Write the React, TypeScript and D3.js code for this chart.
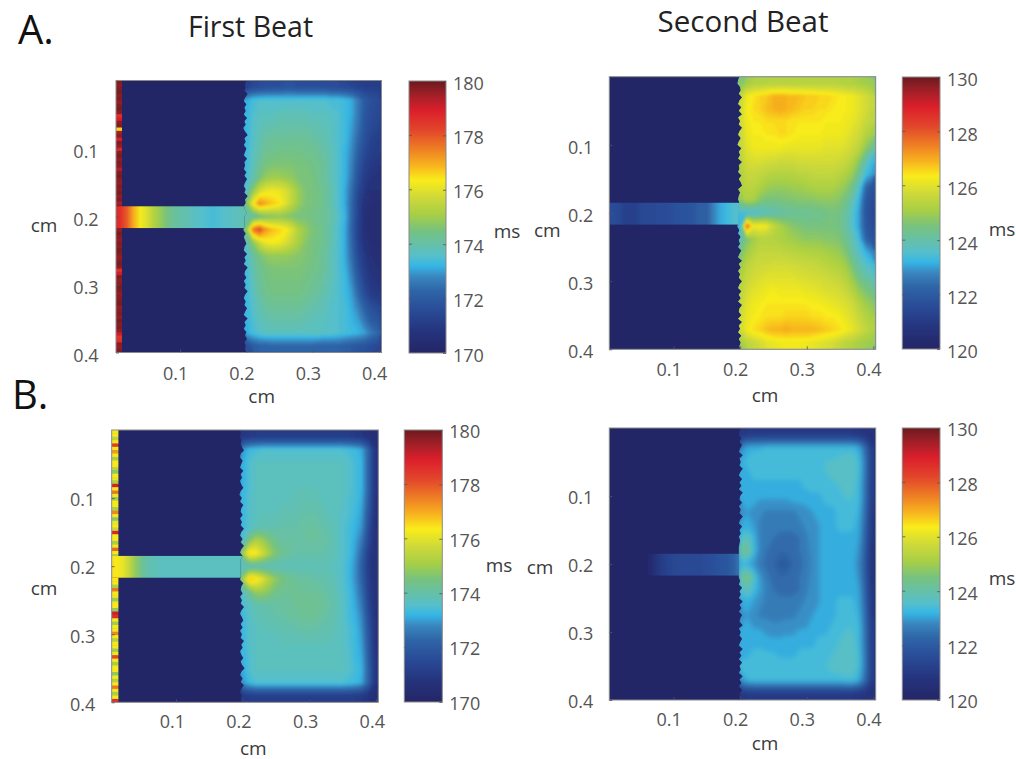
import * as d3 from "d3";
import { useEffect, useRef } from "react";

const WIDTH = 1016;
const HEIGHT = 759;
const FONT = "'Open Sans', sans-serif";

// colorbar: position 0..1 from bottom to top
const colorPos = [0, 0.085, 0.16, 0.23, 0.28, 0.32, 0.355, 0.39, 0.45, 0.51, 0.57, 0.636, 0.685, 0.75, 0.82, 0.89, 0.95, 1];
const colorHex = ["#242566", "#25357f", "#2a4c98", "#2e66a8", "#3a86bf", "#35b6e5", "#55bfcc", "#62c0b0", "#76c27f", "#a8cf45", "#cdd93a", "#f9ec1a", "#f8b81e", "#ee7e24", "#e2452b", "#dc1f2b", "#a01f28", "#6b1a1e"];

const xTicks = [0.1, 0.2, 0.3, 0.4];
const yTicks = [0.1, 0.2, 0.3, 0.4];
const barTicks = [0, 2, 4, 6, 8, 10];

// all fields: ms above the colorbar minimum, rows top to bottom, columns from the notch edge to the right side
const fieldA1 = [
  [1.3,1.5,1.6,1.7,1.7,1.7,1.8,1.8,1.7,1.7,1.7,1.7,1.7,1.6,1.6,1.5,1.4,1.3,1.2,1.2,1.2],
  [3.1,3.4,3.5,3.5,3.5,3.5,3.5,3.5,3.5,3.5,3.5,3.5,3.5,3.4,3.4,3.3,3.1,2.6,2.0,1.7,1.6],
  [3.2,3.5,3.7,3.7,3.7,3.8,3.8,3.8,3.8,3.8,3.7,3.7,3.7,3.6,3.5,3.3,3.1,2.6,1.9,1.6,1.5],
  [3.2,3.6,3.8,3.9,3.9,4.0,4.0,4.0,4.0,4.0,3.9,3.9,3.8,3.7,3.5,3.3,3.0,2.5,1.8,1.5,1.4],
  [3.2,3.6,3.9,4.1,4.2,4.2,4.2,4.2,4.2,4.2,4.1,4.0,3.9,3.7,3.5,3.3,2.9,2.3,1.7,1.3,1.2],
  [3.3,3.7,4.0,4.3,4.3,4.4,4.4,4.4,4.4,4.3,4.3,4.2,4.0,3.8,3.5,3.2,2.8,2.1,1.5,1.2,1.1],
  [3.3,3.8,4.2,4.5,4.6,4.6,4.6,4.6,4.5,4.5,4.4,4.3,4.1,3.8,3.5,3.2,2.7,1.9,1.3,1.0,0.9],
  [3.4,3.9,4.5,4.9,5.0,5.0,4.9,4.8,4.6,4.5,4.5,4.3,4.1,3.8,3.5,3.2,2.6,1.7,1.1,0.8,0.7],
  [3.7,4.8,5.7,6.1,6.2,6.1,5.9,5.4,4.9,4.6,4.5,4.4,4.2,3.9,3.5,3.1,2.4,1.5,0.9,0.6,0.6],
  [4.6,6.3,7.4,7.0,6.7,6.5,6.0,5.4,4.9,4.6,4.5,4.4,4.2,3.9,3.5,3.1,2.3,1.3,0.7,0.5,0.5],
  [3.9,4.0,4.3,4.6,4.7,4.8,4.7,4.6,4.5,4.5,4.4,4.3,4.2,4.0,3.6,3.2,2.3,1.3,0.6,0.4,0.4],
  [4.8,7.6,8.2,7.2,6.8,6.6,6.4,5.9,5.2,4.9,4.6,4.4,4.2,3.9,3.5,3.1,2.2,1.2,0.6,0.4,0.4],
  [3.9,4.8,5.7,6.2,6.3,6.2,5.9,5.5,5.1,4.7,4.5,4.4,4.2,3.9,3.5,3.1,2.3,1.3,0.7,0.5,0.5],
  [3.5,4.1,4.5,4.8,4.9,4.9,4.9,4.8,4.7,4.6,4.5,4.3,4.1,3.8,3.5,3.1,2.4,1.5,0.9,0.6,0.5],
  [3.4,3.9,4.3,4.5,4.6,4.6,4.6,4.6,4.6,4.5,4.4,4.3,4.1,3.8,3.5,3.2,2.6,1.7,1.1,0.7,0.6],
  [3.3,3.8,4.2,4.4,4.5,4.5,4.5,4.5,4.5,4.4,4.3,4.2,4.0,3.8,3.5,3.3,2.8,2.0,1.3,0.9,0.8],
  [3.3,3.7,4.1,4.3,4.4,4.4,4.4,4.4,4.4,4.3,4.2,4.1,3.9,3.7,3.5,3.3,3.0,2.3,1.6,1.1,1.0],
  [3.2,3.6,3.9,4.1,4.2,4.2,4.2,4.2,4.2,4.1,4.0,3.9,3.8,3.6,3.5,3.4,3.1,2.7,2.1,1.7,1.5],
  [3.2,3.5,3.8,3.9,4.0,4.0,4.0,4.0,4.0,3.9,3.8,3.7,3.7,3.6,3.5,3.4,3.2,3.0,2.5,2.0,1.8],
  [3.1,3.4,3.6,3.7,3.7,3.7,3.7,3.7,3.7,3.7,3.7,3.7,3.6,3.6,3.5,3.4,3.3,3.2,3.0,2.6,2.3],
  [1.6,2.0,2.2,2.2,2.3,2.3,2.3,2.3,2.3,2.3,2.3,2.2,2.2,2.2,2.2,2.1,2.0,1.9,1.8,1.6,1.5],
];

const fieldA2 = [
  [4.6,5.0,5.2,5.2,5.3,5.3,5.3,5.3,5.3,5.3,5.3,5.3,5.3,5.3,5.3,5.3,5.2,5.2,5.1,5.0,4.9],
  [5.5,6.2,6.4,6.6,6.7,6.9,6.9,6.9,6.8,6.8,6.7,6.7,6.6,6.6,6.5,6.4,6.3,6.2,6.0,5.8,5.5],
  [5.7,6.3,6.5,6.6,6.8,6.9,7.0,6.9,6.8,6.7,6.6,6.6,6.5,6.5,6.4,6.3,6.3,6.2,6.0,5.8,5.5],
  [5.7,6.2,6.4,6.4,6.5,6.5,6.5,6.5,6.4,6.4,6.4,6.4,6.4,6.3,6.3,6.3,6.2,6.1,5.9,5.6,5.4],
  [5.6,6.1,6.3,6.3,6.4,6.4,6.5,6.5,6.4,6.3,6.3,6.3,6.3,6.2,6.2,6.2,6.1,5.9,5.7,5.3,5.0],
  [5.5,6.0,6.2,6.2,6.2,6.2,6.2,6.1,6.1,6.1,6.1,6.1,6.1,6.0,6.0,6.0,5.9,5.7,5.4,4.8,4.3],
  [5.3,5.8,5.9,5.9,5.8,5.8,5.7,5.7,5.7,5.8,5.8,5.8,5.8,5.8,5.8,5.7,5.6,5.3,4.8,3.9,3.3],
  [5.2,5.6,5.6,5.5,5.4,5.3,5.3,5.3,5.3,5.4,5.4,5.5,5.5,5.5,5.5,5.4,5.2,4.9,4.2,3.4,3.0],
  [5.2,5.4,5.4,5.2,5.0,4.9,4.9,4.9,5.0,5.0,5.1,5.2,5.2,5.2,5.2,5.0,4.8,4.4,3.6,2.4,1.8],
  [4.8,5.2,5.1,4.7,4.5,4.5,4.5,4.6,4.6,4.7,4.7,4.7,4.8,4.8,4.8,4.7,4.4,3.9,3.2,2.0,1.6],
  [3.4,3.4,3.5,3.6,3.8,3.9,4.0,4.1,4.2,4.2,4.2,4.3,4.3,4.4,4.5,4.4,4.1,3.6,3.0,1.9,1.5],
  [3.2,7.8,6.2,6.3,6.2,5.6,5.2,4.9,4.7,4.6,4.5,4.5,4.5,4.5,4.5,4.4,4.1,3.6,3.0,2.0,1.6],
  [3.8,4.6,5.0,5.3,5.3,5.3,5.2,5.1,5.0,4.9,4.8,4.8,4.8,4.7,4.7,4.6,4.3,3.9,3.3,2.3,1.8],
  [4.5,5.0,5.3,5.5,5.5,5.5,5.5,5.4,5.4,5.3,5.3,5.2,5.2,5.1,5.0,4.9,4.6,4.1,3.6,3.2,2.8],
  [4.9,5.4,5.6,5.7,5.7,5.8,5.8,5.8,5.7,5.7,5.6,5.6,5.5,5.4,5.3,5.2,5.0,4.5,4.0,3.6,3.4],
  [5.2,5.6,5.8,5.9,6.0,6.0,6.0,6.0,6.0,5.9,5.9,5.8,5.8,5.7,5.6,5.5,5.3,4.9,4.4,4.1,3.9],
  [5.4,5.8,6.0,6.1,6.2,6.3,6.2,6.2,6.2,6.2,6.1,6.1,6.0,5.9,5.9,5.8,5.6,5.3,4.9,4.6,4.4],
  [5.5,6.0,6.2,6.3,6.4,6.4,6.4,6.4,6.4,6.4,6.4,6.3,6.3,6.2,6.1,6.0,5.9,5.7,5.3,5.0,4.8],
  [5.7,6.1,6.3,6.4,6.5,6.5,6.5,6.6,6.6,6.6,6.6,6.5,6.5,6.4,6.4,6.3,6.1,5.9,5.6,5.3,5.1],
  [5.7,6.2,6.5,6.6,6.8,6.9,6.9,7.0,6.9,6.9,6.9,6.9,6.8,6.7,6.6,6.5,6.3,6.1,5.8,5.5,5.3],
  [5.0,5.4,5.6,5.8,6.0,6.1,6.2,6.2,6.2,6.2,6.2,6.1,6.0,5.9,5.8,5.6,5.4,5.3,5.1,5.0,4.9],
];

const fieldB1 = [
  [0.9,1.0,1.1,1.1,1.1,1.1,1.1,1.1,1.1,1.1,1.1,1.1,1.1,1.1,1.1,1.1,1.1,1.0,0.9,0.7,0.5],
  [2.9,3.3,3.4,3.5,3.5,3.5,3.5,3.5,3.5,3.5,3.5,3.5,3.5,3.5,3.5,3.5,3.4,3.3,3.1,2.2,0.9],
  [3.1,3.5,3.7,3.7,3.7,3.7,3.7,3.7,3.7,3.7,3.7,3.7,3.7,3.7,3.7,3.7,3.6,3.4,3.2,2.2,0.9],
  [3.1,3.5,3.7,3.7,3.8,3.8,3.8,3.8,3.8,3.8,3.8,3.8,3.8,3.8,3.7,3.7,3.6,3.4,3.2,2.2,0.9],
  [3.2,3.5,3.7,3.7,3.8,3.8,3.8,3.8,3.8,3.8,3.8,3.8,3.8,3.8,3.7,3.7,3.6,3.4,3.2,2.2,0.9],
  [3.2,3.6,3.7,3.7,3.8,3.8,3.8,3.8,3.9,3.9,3.9,3.9,3.8,3.8,3.7,3.7,3.5,3.4,3.1,2.1,0.8],
  [3.2,3.6,3.7,3.8,3.8,3.8,3.9,3.9,3.9,4.0,4.0,4.0,3.9,3.8,3.8,3.6,3.5,3.3,3.0,1.9,0.8],
  [3.3,3.6,3.8,3.9,3.9,3.9,4.0,4.0,4.0,4.0,4.1,4.1,4.0,3.9,3.8,3.6,3.4,3.2,2.9,1.7,0.7],
  [3.6,4.5,5.2,5.0,4.6,4.3,4.1,4.1,4.1,4.1,4.1,4.1,4.1,4.0,3.8,3.6,3.4,3.1,2.6,1.5,0.7],
  [4.9,6.6,6.4,5.8,5.1,4.6,4.3,4.1,4.0,4.0,4.0,4.0,4.0,3.9,3.8,3.6,3.4,3.0,2.3,1.2,0.6],
  [3.7,3.7,3.8,3.8,3.8,3.8,3.8,3.8,3.8,3.8,3.8,3.8,3.8,3.8,3.7,3.6,3.3,2.9,2.1,1.1,0.6],
  [5.0,6.8,6.6,6.0,5.3,4.8,4.5,4.3,4.2,4.1,4.1,4.0,4.0,3.9,3.8,3.6,3.3,2.9,2.2,1.2,0.6],
  [3.7,4.3,4.9,4.9,4.7,4.4,4.3,4.2,4.2,4.2,4.2,4.2,4.1,4.0,3.9,3.6,3.4,3.0,2.4,1.3,0.7],
  [3.4,3.7,3.9,4.0,4.0,4.0,4.1,4.1,4.2,4.2,4.2,4.2,4.2,4.1,3.9,3.7,3.4,3.1,2.6,1.5,0.7],
  [3.3,3.6,3.8,3.9,3.9,4.0,4.0,4.1,4.1,4.2,4.2,4.2,4.1,4.0,3.9,3.7,3.4,3.2,2.8,1.7,0.8],
  [3.2,3.6,3.7,3.8,3.8,3.8,3.9,3.9,3.9,4.0,4.0,4.0,3.9,3.9,3.8,3.7,3.5,3.3,2.9,1.9,0.8],
  [3.2,3.6,3.7,3.7,3.7,3.8,3.8,3.8,3.8,3.8,3.8,3.8,3.8,3.8,3.8,3.7,3.5,3.3,3.0,2.0,0.8],
  [3.2,3.5,3.7,3.7,3.7,3.7,3.8,3.8,3.8,3.8,3.8,3.8,3.8,3.8,3.7,3.7,3.6,3.3,3.1,2.1,0.9],
  [3.1,3.5,3.7,3.7,3.7,3.7,3.7,3.7,3.7,3.7,3.7,3.7,3.7,3.7,3.7,3.7,3.6,3.4,3.2,2.2,0.9],
  [2.9,3.3,3.5,3.5,3.5,3.5,3.5,3.5,3.5,3.5,3.5,3.5,3.5,3.5,3.5,3.5,3.4,3.3,3.1,2.2,0.9],
  [1.0,1.1,1.2,1.2,1.2,1.2,1.2,1.2,1.2,1.2,1.2,1.2,1.2,1.2,1.2,1.2,1.2,1.1,1.0,0.8,0.5],
];

const fieldB2 = [
  [0.9,1.0,1.0,1.0,1.0,1.0,1.0,1.0,1.0,1.0,1.0,1.0,1.0,1.0,1.0,1.0,1.0,1.0,0.9,0.8,0.6],
  [2.6,3.1,3.2,3.2,3.3,3.3,3.3,3.3,3.3,3.3,3.3,3.3,3.3,3.3,3.3,3.3,3.3,3.3,3.1,2.2,1.0],
  [3.1,3.3,3.4,3.4,3.4,3.4,3.4,3.4,3.4,3.4,3.4,3.4,3.4,3.5,3.5,3.6,3.7,3.7,3.4,2.4,1.0],
  [3.1,3.2,3.3,3.3,3.3,3.3,3.3,3.3,3.3,3.3,3.3,3.4,3.4,3.5,3.6,3.6,3.7,3.7,3.4,2.4,1.0],
  [3.1,3.2,3.2,3.2,3.2,3.2,3.2,3.2,3.2,3.2,3.3,3.3,3.3,3.4,3.4,3.5,3.6,3.6,3.3,2.3,1.0],
  [3.0,3.1,3.1,3.0,3.0,3.0,3.0,3.0,3.1,3.1,3.1,3.2,3.2,3.3,3.3,3.4,3.5,3.5,3.3,2.3,1.0],
  [2.9,3.0,2.9,2.8,2.7,2.7,2.7,2.7,2.7,2.8,2.9,3.0,3.1,3.2,3.2,3.3,3.4,3.4,3.2,2.2,0.9],
  [3.0,3.1,3.0,2.7,2.6,2.6,2.6,2.6,2.6,2.7,2.8,2.9,3.0,3.1,3.2,3.3,3.3,3.3,3.1,2.1,0.8],
  [3.4,3.9,3.3,2.7,2.6,2.5,2.4,2.4,2.4,2.5,2.7,2.9,3.0,3.1,3.2,3.2,3.2,3.2,3.0,2.0,0.8],
  [3.9,4.6,3.4,2.7,2.5,2.4,2.3,2.3,2.3,2.5,2.7,2.8,3.0,3.1,3.1,3.2,3.2,3.2,2.9,1.9,0.7],
  [3.2,3.2,2.9,2.6,2.4,2.3,1.9,1.9,2.3,2.4,2.6,2.8,3.0,3.1,3.1,3.2,3.2,3.1,2.8,1.8,0.7],
  [3.9,4.7,3.7,2.9,2.6,2.4,2.3,2.3,2.3,2.5,2.7,2.8,3.0,3.1,3.1,3.2,3.2,3.2,2.9,1.9,0.7],
  [3.4,3.9,3.4,3.0,2.7,2.5,2.4,2.4,2.4,2.5,2.7,2.9,3.0,3.1,3.2,3.2,3.2,3.2,3.0,2.0,0.8],
  [3.0,3.1,3.0,2.8,2.7,2.6,2.6,2.6,2.6,2.7,2.8,2.9,3.0,3.1,3.2,3.3,3.3,3.3,3.1,2.1,0.8],
  [2.9,3.0,2.9,2.7,2.7,2.7,2.7,2.7,2.7,2.8,2.9,3.0,3.1,3.2,3.2,3.3,3.4,3.4,3.2,2.2,0.9],
  [3.0,3.0,3.0,3.0,2.9,2.8,2.8,2.9,2.9,3.0,3.0,3.1,3.2,3.2,3.3,3.4,3.5,3.5,3.3,2.3,1.0],
  [3.1,3.2,3.2,3.2,3.1,3.1,3.1,3.1,3.1,3.2,3.2,3.2,3.3,3.3,3.4,3.5,3.6,3.6,3.3,2.3,1.0],
  [3.2,3.2,3.3,3.3,3.3,3.3,3.2,3.2,3.2,3.3,3.3,3.3,3.4,3.4,3.5,3.6,3.7,3.7,3.4,2.4,1.0],
  [3.3,3.4,3.4,3.4,3.4,3.4,3.4,3.4,3.4,3.4,3.4,3.4,3.4,3.5,3.6,3.7,3.7,3.7,3.4,2.4,1.0],
  [2.8,3.2,3.3,3.3,3.3,3.3,3.3,3.3,3.3,3.3,3.3,3.3,3.3,3.3,3.3,3.3,3.4,3.4,3.1,2.2,1.0],
  [0.9,1.0,1.0,1.0,1.0,1.0,1.0,1.0,1.0,1.0,1.0,1.0,1.0,1.0,1.0,1.0,1.0,1.0,0.9,0.8,0.6],
];

// narrow channel along y = 0.2, every 0.01 cm from x = 0 to x = 0.2
const channelA1 = [8.8,8.6,7.9,7.0,6.3,5.9,5.3,4.9,4.5,4.2,4.0,3.9,3.7,3.6,3.5,3.4,3.5,3.6,3.7,3.8,4.0];
const channelA2 = [1.6,1.6,1.4,1.2,1.2,1.4,1.5,1.5,1.6,1.6,1.7,1.8,1.8,1.9,2.1,2.1,2.7,3.1,3.3,3.5,3.6];
const channelB1 = [6.5,6.4,6.1,5.5,4.8,4.2,3.9,3.8,3.7,3.7,3.7,3.7,3.7,3.7,3.7,3.7,3.7,3.7,3.7,3.7,3.7];
const channelB2 = [0,0,0,0,0,0,0.1,0.5,1.0,1.3,1.4,1.5,1.5,1.5,1.5,1.6,1.7,1.8,1.9,2.1,2.6];

// strip along the left side, top to bottom (only the first beat has one)
const stripA1 = [9.8,9.7,9.8,9.9,9.7,9.8,9.6,9.8,9.9,9.7,8.6,8.9,9.7,9.8,6.6,9.4,9.7,8.9,9.8,9.6,8.8,9.7,9.9,9.6,9.8,9.7,9.3,9.8,9.9,9.7,9.6,9.8,9.7,9.9,9.6,9.8,9.4,9.7,9.0,9.0,9.0,9.0,9.0,9.8,9.6,9.9,9.7,9.6,9.8,9.7,9.9,9.8,9.6,9.7,9.9,9.7,8.6,9.0,9.8,9.6,9.7,9.9,9.8,9.6,9.7,9.8,9.9,9.6,9.7,9.8,9.6,9.9,9.7,9.8,9.6,9.0,8.5,8.6,9.7,9.6,9.8];
const stripB1 = [6.4,6.3,5.4,6.4,8.4,6.3,7.2,6.4,5.1,6.3,6.4,5.4,4.8,6.3,6.1,5.2,8.9,6.4,7.6,6.2,5.0,6.4,6.3,5.2,7.4,6.4,4.7,6.1,6.4,5.6,8.8,6.3,6.4,5.1,6.2,7.8,6.4,5.0,6.3,6.3,6.3,6.3,6.3,8.8,6.4,6.3,5.2,7.6,6.4,6.1,5.0,6.3,6.4,4.9,9.0,8.6,6.3,5.0,6.4,6.2,7.4,6.4,5.3,6.3,6.4,5.0,6.2,8.2,6.4,5.1,6.3,6.4,4.8,6.3,5.3,6.4,7.6,6.2,5.2,6.4,8.6];

// jagged left edge of the wide region, in 0.001 cm, every 0.005 cm from y = 0 to y = 0.4
const edgeA1 = [200,198,199,197,202,198,196,200,197,199,196,201,197,199,195,198,202,197,199,196,200,198,196,201,197,198,196,200,197,201,198,196,199,197,202,198,199,196,198,200,197,197,197,197,195,199,196,198,200,197,196,201,197,199,196,202,198,197,200,196,199,197,202,198,196,199,197,201,198,196,202,197,199,196,200,198,201,197,199,198,200];
const edgeA2 = [199,197,196,200,201,198,203,199,197,202,198,203,197,200,198,203,199,197,201,198,196,202,198,200,197,203,198,199,197,202,198,201,203,197,200,198,197,199,196,198,197,197,197,197,196,199,197,201,198,200,197,202,199,197,203,198,201,197,200,198,203,199,197,202,198,201,197,203,199,198,202,197,203,198,200,197,202,198,201,199,200];
const edgeB1 = [196,197,196,198,197,199,202,197,196,200,198,196,201,197,199,196,198,201,197,195,199,196,201,198,197,200,196,199,197,202,198,196,200,197,202,198,196,200,197,197,197,197,197,197,196,201,198,197,200,196,199,197,202,198,196,199,201,197,200,196,199,197,202,198,200,196,198,201,197,199,203,198,196,200,197,202,198,196,199,197,198];
const edgeB2 = [201,199,198,202,199,203,200,198,204,199,201,199,204,200,198,203,199,202,198,204,200,199,203,198,201,199,204,200,198,203,199,201,198,200,199,198,198,198,198,198,198,198,198,198,198,200,198,203,199,201,198,204,199,202,198,203,200,199,204,198,201,199,203,200,198,204,199,202,198,203,199,201,198,204,199,202,198,203,200,199,201];

const fine = d3.range(0.1, 10, 0.1);
const banded = [...d3.range(0.1, 2, 0.1), 2, 2.25, 2.5, 2.75, 3, 3.25, 3.5, ...d3.range(3.75, 10, 0.1)];

const panels = [
  { id: "a1", box: [116, 80.5, 381.5, 352.5], bar: [409, 446, 81, 353], base: 170, field: fieldA1, channel: channelA1, strip: stripA1, stripEnd: 0.0125, edge: edgeA1, levels: fine, under: 1.2, soft: 1.2,
    xLabelY: 21.5, xLabelDx: -5, yLabelX: -30, yLabelDy: 2.5, barDy: 1.8, xName: [261.7, 397.7], yName: [44, 226], ms: [507, 232] },
  { id: "a2", box: [609.3, 76.7, 875.7, 349.3], bar: [902.3, 940, 77, 349], base: 120, field: fieldA2, channel: channelA2, strip: null, stripEnd: 0, edge: edgeA2, levels: fine, under: 4.0, soft: 1.2,
    xLabelY: 20, xLabelDx: -5, yLabelX: -28.6, yLabelDy: 2, barDy: 2.5, xName: [765, 396], yName: [547.3, 231.7], ms: [1002, 230] },
  { id: "b1", box: [111.7, 430, 378.3, 702.3], bar: [404.3, 442.3, 430, 702], base: 170, field: fieldB1, channel: channelB1, strip: stripB1, stripEnd: 0.0135, edge: edgeB1, levels: fine, under: 0.8, soft: 1.5,
    xLabelY: 19.4, xLabelDx: -4.2, yLabelX: -29, yLabelDy: 1.5, barDy: 1, xName: [253.3, 749.3], yName: [44, 589], ms: [499, 566.7] },
  { id: "b2", box: [609.3, 428, 875.7, 700], bar: [902.3, 940, 428, 700], base: 120, field: fieldB2, channel: channelB2, strip: null, stripEnd: 0, edge: edgeB2, levels: banded, under: 0.9, soft: 2.4,
    xLabelY: 20, xLabelDx: -5, yLabelX: -28.6, yLabelDy: 1.5, barDy: 1.5, xName: [765, 744.3], yName: [540, 568], ms: [1002, 579.3] },
];

const titles = [
  { text: "First Beat", x: 250.5, y: 37, size: 28.5 },
  { text: "Second Beat", x: 743, y: 32, size: 29.5 },
];
const letters = [
  { text: "A.", x: 18, y: 44 },
  { text: "B.", x: 12, y: 409 },
];

const color = d3
  .scaleLinear<string>()
  .domain(colorPos.map((p) => p * 10))
  .range(colorHex)
  .clamp(true);

const drawPanel = (svg: any, p: any) => {
  const [x0, y0, x1, y1] = p.box;
  const x = d3.scaleLinear().domain([0.0035, 0.4035]).range([x0, x1]);
  const y = d3.scaleLinear().domain([0, 0.4]).range([y0, y1]);
  const defs = svg.append("defs");

  defs.append("clipPath").attr("id", `plot-${p.id}`).append("rect")
    .attr("x", x0).attr("y", y0).attr("width", x1 - x0).attr("height", y1 - y0);

  defs.append("filter").attr("id", `soft-${p.id}`)
    .attr("filterUnits", "userSpaceOnUse")
    .attr("x", x0).attr("y", y0).attr("width", x1 - x0).attr("height", y1 - y0)
    .append("feGaussianBlur").attr("stdDeviation", p.soft);

  // wide region: jagged edge on the left, straight on the other sides
  const outline = [...p.edge.map((e: number, i: number) => [e / 1000, i * 0.005]), [0.4035, 0.4], [0.4035, 0]];
  defs.append("clipPath").attr("id", `tissue-${p.id}`).append("path")
    .attr("d", d3.line().x((d: any) => x(d[0])).y((d: any) => y(d[1]))(outline as any) + "Z");

  const channelGrad = defs.append("linearGradient").attr("id", `channel-${p.id}`)
    .attr("gradientUnits", "userSpaceOnUse").attr("x1", x(0)).attr("x2", x(0.2)).attr("y1", 0).attr("y2", 0);
  channelGrad.selectAll("stop").data(p.channel).join("stop")
    .attr("offset", (_: any, i: number) => i / (p.channel.length - 1))
    .attr("stop-color", (d: number) => color(d));

  const outer = svg.append("g").attr("clip-path", `url(#plot-${p.id})`);
  const g = outer.append("g").attr("filter", "url(#soft)");
  g.append("rect").attr("x", x0 - 4).attr("y", y0 - 4).attr("width", x1 - x0 + 8).attr("height", y1 - y0 + 8).attr("fill", color(0));

  if (p.strip) {
    const rows = d3.scaleBand().domain(d3.range(p.strip.length) as any).range([y0, y1]);
    g.selectAll("rect.strip").data(p.strip).join("rect").attr("class", "strip")
      .attr("x", x0).attr("width", x(p.stripEnd) - x0)
      .attr("y", (_: any, i: number) => rows(i as any))
      .attr("height", rows.bandwidth() + 0.5)
      .attr("fill", (d: number) => color(d));
  }

  g.append("rect").attr("x", x0).attr("width", x(0.21) - x0)
    .attr("y", y(0.185)).attr("height", y(0.217) - y(0.185))
    .attr("fill", `url(#channel-${p.id})`);

  // the field as filled contours, lowest level first
  const rowsN = p.field.length;
  const colsN = p.field[0].length;
  const fieldX = d3.scaleLinear().domain([0, colsN]).range([x(0.195), x1]);
  const fieldY = d3.scaleLinear().domain([0, rowsN]).range([y0, y1]);
  const path = d3.geoPath(d3.geoTransform({
    point(px: number, py: number) { (this as any).stream.point(fieldX(px), fieldY(py)); },
  }));
  const contours = d3.contours().size([colsN, rowsN]).thresholds(p.levels)(p.field.flat());
  const tissue = g.append("g").attr("clip-path", `url(#tissue-${p.id})`);
  tissue.append("rect").attr("x", x(0.19)).attr("y", y0).attr("width", x1 - x(0.19)).attr("height", y1 - y0).attr("fill", color(p.under));
  tissue.append("g").attr("filter", `url(#soft-${p.id})`)
    .selectAll("path").data(contours).join("path")
    .attr("d", path as any)
    .attr("fill", (d: any, i: number) => color((d.value + (p.levels[i + 1] ?? d.value + 0.1)) / 2));

  svg.append("rect").attr("x", x0).attr("y", y0).attr("width", x1 - x0).attr("height", y1 - y0)
    .attr("fill", "none").attr("stroke", "#8a8a8a").attr("stroke-width", 1);

  const styleAxis = (a: any) => {
    a.select(".domain").remove();
    a.selectAll("line").attr("stroke", "#555").attr("stroke-width", 0.8);
    a.selectAll("text").attr("font-family", FONT).attr("font-size", 18).attr("fill", "#555").attr("dy", "0.35em");
  };

  const xAxis = svg.append("g").attr("transform", `translate(0,${y1})`)
    .call(d3.axisBottom(x).tickValues(xTicks).tickSize(-3).tickFormat(d3.format(".1f") as any));
  styleAxis(xAxis);
  xAxis.selectAll("text").attr("y", p.xLabelY).attr("x", p.xLabelDx);

  const yAxis = svg.append("g").attr("transform", `translate(${x0},0)`)
    .call(d3.axisLeft(y).tickValues(yTicks).tickSize(-3).tickFormat(d3.format(".1f") as any));
  styleAxis(yAxis);
  yAxis.selectAll("text").attr("x", p.yLabelX).attr("y", p.yLabelDy).attr("text-anchor", "middle");

  // colorbar
  const [bx0, bx1, by0, by1] = p.bar;
  const barGrad = defs.append("linearGradient").attr("id", `bar-${p.id}`).attr("x1", 0).attr("x2", 0).attr("y1", 1).attr("y2", 0);
  barGrad.selectAll("stop").data(colorPos).join("stop")
    .attr("offset", (d: number) => d)
    .attr("stop-color", (_: any, i: number) => colorHex[i]);
  svg.append("rect").attr("x", bx0).attr("y", by0).attr("width", bx1 - bx0).attr("height", by1 - by0)
    .attr("fill", `url(#bar-${p.id})`).attr("stroke", "#8a8a8a").attr("stroke-width", 1);

  const barScale = d3.scaleLinear().domain([0, 10]).range([by1, by0]);
  const barAxis = svg.append("g").attr("transform", `translate(${bx1},0)`)
    .call(d3.axisRight(barScale).tickValues(barTicks).tickSize(-3).tickFormat((d: any) => String(p.base + d)));
  styleAxis(barAxis);
  barAxis.selectAll("text").attr("x", 7).attr("y", p.barDy);
  svg.append("g").selectAll("line").data(barTicks.slice(1, -1)).join("line")
    .attr("x1", bx0).attr("x2", bx0 + 3)
    .attr("y1", (d: number) => barScale(d)).attr("y2", (d: number) => barScale(d))
    .attr("stroke", "#555").attr("stroke-width", 0.8);

  const names = [
    { text: "cm", pos: p.xName },
    { text: "cm", pos: p.yName },
    { text: "ms", pos: p.ms },
  ];
  svg.append("g").selectAll("text").data(names).join("text")
    .attr("x", (d: any) => d.pos[0]).attr("y", (d: any) => d.pos[1])
    .attr("dy", "0.3em").attr("text-anchor", "middle")
    .attr("font-family", FONT).attr("font-size", 19).attr("fill", "#3a3a3a")
    .text((d: any) => d.text);
};

export default function App() {
  const ref = useRef<SVGSVGElement | null>(null);

  useEffect(() => {
    const svg = d3.select(ref.current);
    svg.selectAll("*").remove();

    svg.append("defs").append("filter").attr("id", "soft")
      .append("feGaussianBlur").attr("stdDeviation", 0.7);

    panels.forEach((p) => drawPanel(svg, p));

    svg.append("g").selectAll("text").data(titles).join("text")
      .attr("x", (d) => d.x).attr("y", (d) => d.y).attr("text-anchor", "middle")
      .attr("font-family", FONT).attr("font-size", (d) => d.size).attr("fill", "#222")
      .text((d) => d.text);

    svg.append("g").selectAll("text").data(letters).join("text")
      .attr("x", (d) => d.x).attr("y", (d) => d.y)
      .attr("font-family", FONT).attr("font-size", 40).attr("fill", "#111")
      .text((d) => d.text);
  }, []);

  return (
    <svg
      ref={ref}
      width={WIDTH}
      height={HEIGHT}
      style={{ position: "absolute", left: 0, top: 0, display: "block", background: "#fff" }}
    />
  );
}
